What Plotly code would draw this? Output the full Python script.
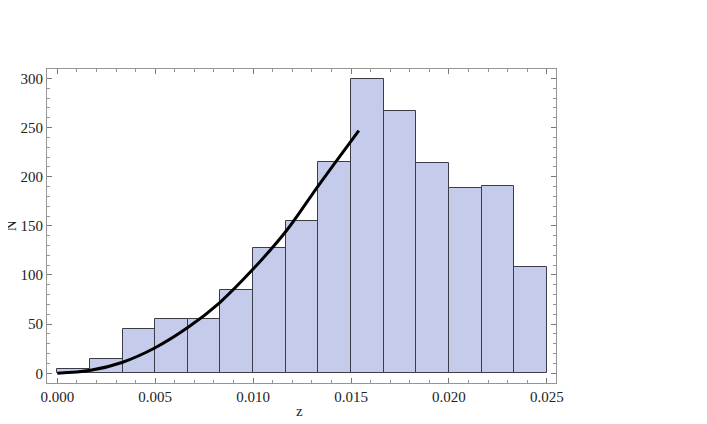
import plotly.graph_objects as go

# histogram bins (left edges) and counts
bin_left = [0.0, 0.001667, 0.003333, 0.005, 0.006667, 0.008333, 0.01, 0.011667,
            0.013333, 0.015, 0.016667, 0.018333, 0.02, 0.021667, 0.023333]
bin_width = 0.001667
counts = [4, 15, 45, 55, 55, 85, 127, 155, 215, 299, 267, 214, 189, 191, 108]

# fitted curve
curve_z = [0.0, 0.0017, 0.0033, 0.005, 0.0067, 0.0083, 0.01, 0.0117, 0.0133, 0.0154]
curve_n = [0, 3, 11, 26, 47, 72, 106, 145, 190, 247]

serif = "Times New Roman, Liberation Serif, serif"

fig = go.Figure()
fig.add_trace(go.Bar(
    x=[b + bin_width / 2 for b in bin_left], y=counts, width=bin_width,
    marker=dict(color="rgb(197,204,235)", line=dict(color="rgb(60,60,70)", width=1)),
    showlegend=False))
fig.add_trace(go.Scatter(
    x=curve_z, y=curve_n, mode="lines", line=dict(color="black", width=3, shape="spline"),
    showlegend=False))

axis_common = dict(
    showgrid=False, zeroline=False, showline=True, linecolor="rgb(150,150,150)", linewidth=1,
    mirror="ticks", ticks="inside", ticklen=5, tickcolor="rgb(120,120,120)", tickwidth=1,
    tickfont=dict(family=serif, size=15, color="#222"), automargin=False,
)

# page body has an 8px margin, so offsets are shifted accordingly
fig.update_layout(
    width=707, height=424,
    margin=dict(l=39, r=159, t=61, b=49),
    plot_bgcolor="white", paper_bgcolor="white",
    font=dict(family=serif),
    bargap=0,
    xaxis=dict(axis_common, range=[-0.000526, 0.02547], dtick=0.005, tickformat=".3f",
               minor=dict(dtick=0.001, ticks="inside", ticklen=3, tickcolor="rgb(150,150,150)")),
    yaxis=dict(axis_common, range=[-9.9, 309.6], dtick=50,
               minor=dict(dtick=10, ticks="inside", ticklen=3, tickcolor="rgb(150,150,150)")),
)

# axis labels as annotations so they sit where the reference has them
fig.add_annotation(text="z", xref="paper", yref="paper", x=0.497, y=-0.09,
                   xanchor="center", yanchor="middle", showarrow=False,
                   font=dict(family=serif, size=15, color="#222"))
fig.add_annotation(text="N", xref="paper", yref="paper", x=-0.07, y=0.5,
                   xanchor="center", yanchor="middle", showarrow=False, textangle=-90,
                   font=dict(family=serif, size=15, color="#222"))

fig.write_html("out.html")
